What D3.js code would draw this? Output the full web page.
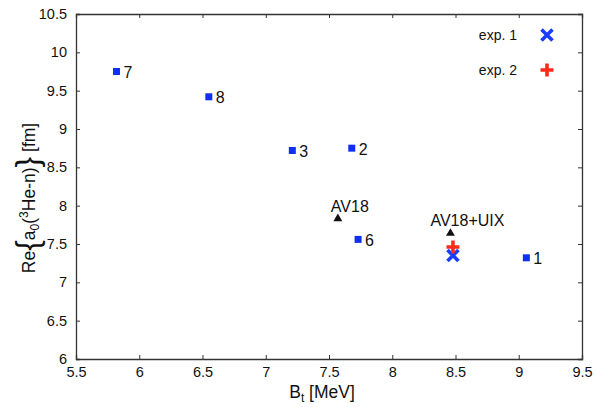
<!DOCTYPE html>
<html>
<head>
<meta charset="utf-8">
<script src="https://cdn.jsdelivr.net/npm/d3@7"></script>
<style>
  body { margin: 0; background: #fff; }
  text { font-family: "Liberation Sans", Arial, sans-serif; fill: #111; }
</style>
</head>
<body>
<div id="chart"></div>
<script>
// model calculations (labelled squares)
const modelIds = ['7', '8', '3', '2', '6', '1'];
const modelBt = [5.82, 6.55, 7.21, 7.68, 7.73, 9.06];
const modelA0 = [9.75, 9.42, 8.72, 8.75, 7.56, 7.32];

// potential calculations (triangles)
const potNames = ['AV18', 'AV18+UIX'];
const potBt = [7.57, 8.46];
const potA0 = [7.83, 7.64];
const potLabelDx = [-7, -20];

// experiments
const expNames = ['exp. 1', 'exp. 2'];
const expBt = [8.48, 8.48];
const expA0 = [7.35, 7.46];
const expColors = ['#1a3cff', '#ff2a1a'];

const xTicks = [5.5, 6, 6.5, 7, 7.5, 8, 8.5, 9, 9.5];
const yTicks = [6, 6.5, 7, 7.5, 8, 8.5, 9, 9.5, 10, 10.5];

const W = 597, H = 407;
const margin = {top: 14, right: 15, bottom: 48, left: 76};
const width = W - margin.left - margin.right;
const height = H - margin.top - margin.bottom;

const svg = d3.select('#chart').append('svg')
  .attr('width', W).attr('height', H);
const g = svg.append('g')
  .attr('transform', `translate(${margin.left},${margin.top})`);

const x = d3.scaleLinear().domain([5.5, 9.5]).range([0, width]);
const y = d3.scaleLinear().domain([6, 10.5]).range([height, 0]);

const fmt = d => d3.format('')(d);

// axes with inward ticks
g.append('g').attr('transform', `translate(0,${height})`)
  .call(d3.axisBottom(x).tickValues(xTicks).tickSize(-4).tickPadding(7).tickFormat(fmt))
  .call(a => a.selectAll('text').attr('font-size', 14.5).attr('dy', '0.75em'));
g.append('g')
  .call(d3.axisTop(x).tickValues(xTicks).tickSize(-4).tickFormat(''));
g.append('g')
  .call(d3.axisLeft(y).tickValues(yTicks).tickSize(-4).tickPadding(9).tickFormat(fmt))
  .call(a => a.selectAll('text').attr('font-size', 14.5));
g.append('g').attr('transform', `translate(${width},0)`)
  .call(d3.axisRight(y).tickValues(yTicks).tickSize(-4).tickFormat(''));
g.selectAll('.domain').attr('stroke', '#333').attr('stroke-width', 1.3);
g.selectAll('.tick line').attr('stroke', '#333');
g.selectAll('.tick text').attr('fill', '#111').attr('font-family', '"Liberation Sans", Arial, sans-serif');

// x title
const xt = svg.append('text')
  .attr('x', 322).attr('y', 398)
  .attr('text-anchor', 'middle').attr('font-size', 17.5);
xt.append('tspan').text('B');
xt.append('tspan').attr('font-size', 12).attr('dy', 4).text('t');
xt.append('tspan').attr('dy', -4).text(' [MeV]');

// y title
const yt = svg.append('text')
  .attr('transform', 'translate(35,198) rotate(-90)')
  .attr('text-anchor', 'middle').attr('font-size', 17.5);
yt.append('tspan').text('Re');
yt.append('tspan').attr('font-size', 32).attr('dy', 3).text('{');
yt.append('tspan').attr('dy', -3).text('a');
yt.append('tspan').attr('font-size', 12).attr('dy', 4).text('0');
yt.append('tspan').attr('dy', -4).text('(');
yt.append('tspan').attr('font-size', 12).attr('dy', -7).text('3');
yt.append('tspan').attr('dy', 7).text('He-n)');
yt.append('tspan').attr('font-size', 32).attr('dy', 3).text('}');
yt.append('tspan').attr('dy', -3).text(' [fm]');

// squares
const models = modelIds.map((id, i) => ({id, bt: modelBt[i], a0: modelA0[i]}));
g.selectAll('rect.model').data(models).join('rect')
  .attr('class', 'model')
  .attr('x', d => x(d.bt) - 3.5).attr('y', d => y(d.a0) - 3.5)
  .attr('width', 7).attr('height', 7).attr('fill', '#1030f0');
g.selectAll('text.model').data(models).join('text')
  .attr('class', 'model')
  .attr('x', d => x(d.bt) + 7).attr('y', d => y(d.a0) + 6.5)
  .attr('font-size', 16).text(d => d.id);

// triangles
const pots = potNames.map((n, i) => ({n, bt: potBt[i], a0: potA0[i], dx: potLabelDx[i]}));
const tri = d3.symbol().type(d3.symbolTriangle).size(34);
g.selectAll('path.pot').data(pots).join('path')
  .attr('class', 'pot')
  .attr('transform', d => `translate(${x(d.bt)},${y(d.a0)})`)
  .attr('d', tri).attr('fill', '#111');
g.selectAll('text.pot').data(pots).join('text')
  .attr('class', 'pot')
  .attr('x', d => x(d.bt) + d.dx).attr('y', d => y(d.a0) - 7)
  .attr('font-size', 16).text(d => d.n);

// experiment markers
function marker(sel, i, cx, cy) {
  const s = 5.5;
  const p = i === 0
    ? `M${cx - s},${cy - s}L${cx + s},${cy + s}M${cx - s},${cy + s}L${cx + s},${cy - s}`
    : `M${cx - s - 1},${cy}L${cx + s + 1},${cy}M${cx},${cy - s - 1}L${cx},${cy + s + 1}`;
  sel.append('path').attr('d', p).attr('stroke', expColors[i])
    .attr('stroke-width', 3.6).attr('fill', 'none');
}
expNames.forEach((n, i) => {
  marker(g, i, x(expBt[i]), y(expA0[i]));
});

// legend
expNames.forEach((n, i) => {
  const ly = 21 + i * 35;
  g.append('text').attr('x', width - 65).attr('y', ly + 5)
    .attr('text-anchor', 'end').attr('font-size', 14).text(n);
  marker(g, i, width - 35, ly);
});
</script>
</body>
</html>
